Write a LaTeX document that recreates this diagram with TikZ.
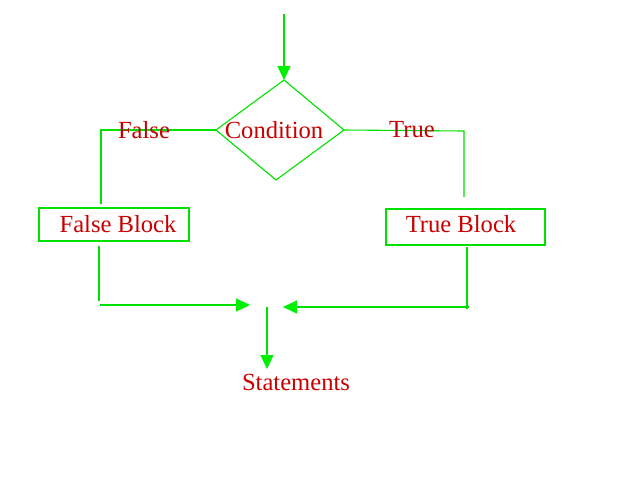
\documentclass[tikz,border=0pt]{standalone}
\usepackage{fontspec}
\setmainfont{Liberation Serif}
\usetikzlibrary{arrows.meta}
\definecolor{lgreen}{RGB}{0,225,0}
\definecolor{agreen}{RGB}{0,240,0}
\definecolor{tred}{RGB}{200,0,0}
\tikzset{
  conn/.style={draw=lgreen, line width=1.1pt},
  arr/.style={conn, -{Triangle[length=14pt,width=13pt,fill=agreen,color=agreen]}},
  lbl/.style={text=tred, font=\fontsize{24.6}{28}\selectfont, inner sep=0pt},
  blockbox/.style={draw=lgreen, line width=1.1pt, inner sep=0pt}
}
\begin{document}
\begin{tikzpicture}[x=1pt,y=-1pt]
\useasboundingbox (0,0) rectangle (640,480);
% diamond corners
\coordinate (dt) at (284,80);
\coordinate (dl) at (216,130);
\coordinate (dr) at (344,130);
\coordinate (db) at (276,180);
\coordinate (start) at (284,14);
\draw[conn] (dt) -- (dr) -- (db) -- (dl) -- cycle;
\node[lbl] (cond) at (274,130) {Condition};
\draw[arr] (start) -- (dt);
% boxes
\draw[blockbox] (39,208) rectangle (189,241);
\node[lbl] (fb) at (118,224) {False Block};
\coordinate (fbtop) at (101,204);
\coordinate (fbbot) at (99,246);
\draw[blockbox] (386,209) rectangle (545,245);
\node[lbl] (tb) at (461,224) {True Block};
\coordinate (tbtop) at (464,197);
\coordinate (tbbot) at (467,247);
% false branch
\coordinate (fl) at (101,130);
\draw[conn] (dl) -- (fl) -- (fbtop);
\node[lbl] (flab) at (144,130) {False};
% true branch
\coordinate (tr) at (464,131);
\draw[conn] (dr) -- (tr) -- (tbtop);
\node[lbl] (tlab) at (412,130) {True};
% join
\coordinate (fjc) at (99,305);
\coordinate (jl) at (250,305);
\coordinate (tjc) at (468,307);
\coordinate (jr) at (283,307);
\draw[conn] (fbbot) -- (99,301);
\draw[arr] (100,305) -- (jl);
\draw[conn] (tbbot) -- (467,309);
\draw[arr] (469,307) -- (jr);
\coordinate (js) at (267,307);
\coordinate (je) at (267,369);
\draw[arr] (js) -- (je);
\node[lbl] (st) at (296,382) {Statements};
\end{tikzpicture}
\end{document}
